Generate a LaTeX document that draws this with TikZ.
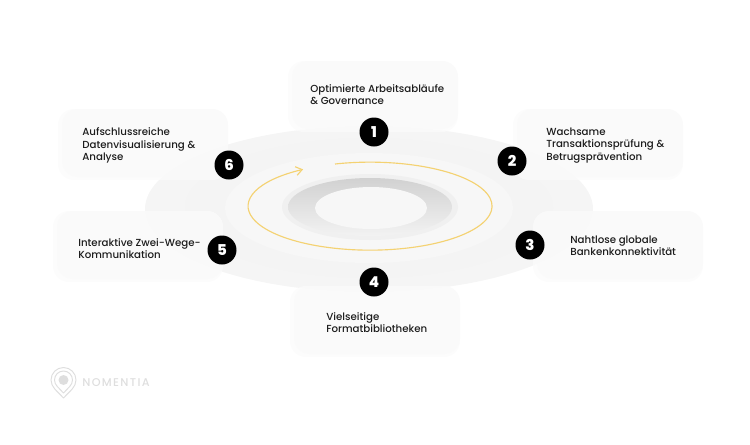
\documentclass[tikz,border=0pt]{standalone}
\usepackage{fontspec}
\setmainfont{Poppins}
\newfontfamily\logofont[LetterSpace=12]{Poppins Medium}
\newfontfamily\labelfont{Poppins Medium}
\newfontfamily\digitfont{Poppins ExtraBold}
\usetikzlibrary{positioning,arrows.meta,shadings}
\definecolor{cardfill}{HTML}{FAFAFA}
\definecolor{cardedge}{HTML}{FBFBFB}
\definecolor{discout}{HTML}{F5F5F5}
\definecolor{discmid}{HTML}{F4F4F4}
\definecolor{discin}{HTML}{F7F7F7}
\definecolor{platerim}{HTML}{F0F0F0}
\definecolor{spiral}{HTML}{F4D272}
\definecolor{logogray}{HTML}{DEDEDE}
\definecolor{inktext}{HTML}{1C1C1C}
\tikzset{
  cardlabel/.style={font=\labelfont\fontsize{5.82}{7}\selectfont,text=inktext,anchor=west,align=left,inner sep=0pt},
  badge/.style={circle,fill=black,text=white,minimum size=0.58cm,inner sep=0pt,font=\digitfont\fontsize{8.5}{9}\selectfont},
  ring/.style={draw=logogray,line width=0.55pt,fill=none}
}
\begin{document}
\begin{tikzpicture}[x=0.02cm,y=0.02cm]
  \useasboundingbox (0,0) rectangle (750,-444);
  % stacked discs
  \fill[discout] (369,-209) ellipse [x radius=224,y radius=83];
  \fill[discmid] (369,-208) ellipse [x radius=184,y radius=70];
  \fill[discin] (369,-208) ellipse [x radius=144,y radius=55];
  \fill[platerim] (370,-207) ellipse [x radius=88,y radius=33];
  \shade[top color=black!18,bottom color=black!5] (370,-207) ellipse [x radius=82,y radius=29];
  \fill[discin] (371,-208) ellipse [x radius=56,y radius=21];
  % cards: outer edge, then face
  \foreach \cx/\cy in {288/61,513/109,533/211,290/286,53/211,58/109} {
    \fill[cardedge,opacity=0.75,rounded corners=9pt] (\cx,-\cy) rectangle (\cx+170,-\cy-71);
    \fill[cardfill,opacity=0.8,rounded corners=9pt] (\cx+4,-\cy) rectangle (\cx+170,-\cy-68);
  }
  % direction of travel
  \draw[spiral,line width=0.65pt,-{Straight Barb[length=3.5pt,width=5pt]}] (335,-164)
    arc [start angle=106.7,end angle=-236.7,x radius=122,y radius=44];
  % labels and numbers
  \foreach \sid/\tx/\ty/\bx/\by/\stext in {
      1/310/94.5/374/132/{Optimierte Arbeitsabläufe\\\& Governance},
      2/546/145.5/512/161/{Wachsame\\Transaktionsprüfung \&\\Betrugsprävention},
      3/570/245.5/530/245/{Nahtlose globale\\Bankenkonnektivität},
      4/326/322.5/374/282/{Vielseitige\\Formatbibliotheken},
      5/78/248.5/222/250/{Interaktive Zwei-Wege-\\Kommunikation},
      6/82/145.5/229/165/{Aufschlussreiche\\Datenvisualisierung \&\\Analyse}} {
    \node[cardlabel] (label\sid) at (\tx,-\ty) {\stext};
    \node[badge] (badge\sid) at (\bx,-\by) {\sid};
  }
  % logo
  \draw[ring,line cap=round,line join=round] (63.5,-398) .. controls (57,-391) and (51,-387) .. (51,-380)
    arc [start angle=180,end angle=0,radius=12.5] .. controls (76,-387) and (70,-391) .. (63.5,-398) -- cycle;
  \draw[ring,line join=round] (63.5,-393) .. controls (59,-388) and (54.5,-385) .. (54.5,-380)
    arc [start angle=180,end angle=0,radius=9] .. controls (72.5,-385) and (68,-388) .. (63.5,-393) -- cycle;
  \fill[logogray] (63.5,-380) circle [radius=5];
  \node[anchor=west,inner sep=0pt,text=logogray,font=\logofont\fontsize{6.4}{7}\selectfont] (logoname) at (82,-383) {NOMENTIA};
\end{tikzpicture}
\end{document}
